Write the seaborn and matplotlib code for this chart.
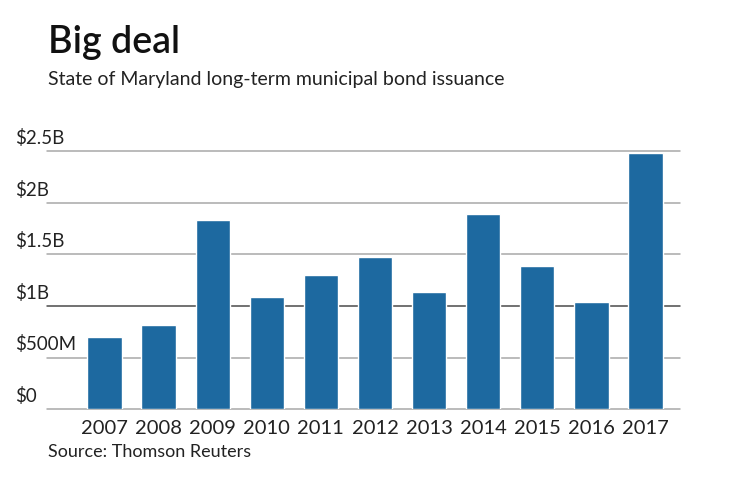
import matplotlib
matplotlib.use("Agg")
import matplotlib.pyplot as plt
import matplotlib.transforms as mtransforms
import seaborn as sns
import pandas as pd

years = ["2007", "2008", "2009", "2010", "2011", "2012", "2013", "2014", "2015", "2016", "2017"]
issuance_b = [0.70, 0.815, 1.83, 1.085, 1.30, 1.47, 1.14, 1.89, 1.39, 1.035, 2.485]
ytick_vals = [0, 0.5, 1.0, 1.5, 2.0, 2.5]
ytick_labels = ["$0", "$500M", "$1B", "$1.5B", "$2B", "$2.5B"]

title = "Big deal"
subtitle = "State of Maryland long-term municipal bond issuance"
source = "Source: Thomson Reuters"

sns.set_theme(style="white")
plt.rcParams["font.family"] = ["Lato", "DejaVu Sans"]

df = pd.DataFrame({"year": years, "value": issuance_b})

fig = plt.figure(figsize=(7.4, 4.82), dpi=100)
ax = fig.add_axes([0.0635, 0.1508, 0.919 - 0.0635, 0.6867 - 0.1508])

sns.barplot(data=df, x="year", y="value", color="#1d69a0", saturation=1,
            width=0.635, ax=ax, zorder=3)

ax.set_xlim(-1.063, 10.64)
ax.set_ylim(0, 2.5)
for s in ax.spines.values():
    s.set_visible(False)

for v in ytick_vals:
    col = "#4a4a4a" if v == 1.0 else "#a8a8a8"
    ax.axhline(v, color=col, lw=1.1, zorder=1, clip_on=False)

ax.set_yticks([])
ax.set_xlabel("")
ax.set_ylabel("")
ax.tick_params(axis="x", length=0, pad=7.5)
for lab in ax.get_xticklabels():
    lab.set_fontsize(14.5)
    lab.set_color("#222222")

trans = mtransforms.blended_transform_factory(fig.transFigure, ax.transData)
for v, lab in zip(ytick_vals, ytick_labels):
    t = ax.text(15 / 740, v, lab, transform=trans, ha="left", va="bottom",
                fontsize=13.5, color="#222222")
    t.set_transform(trans + mtransforms.ScaledTranslation(0, 3 / 72, fig.dpi_scale_trans))

fig.text(48 / 740, 1 - 53 / 482, title, fontsize=27, fontweight="semibold",
         color="#111111", ha="left", va="baseline")
fig.text(48 / 740, 1 - 85 / 482, subtitle, fontsize=14, color="#222222",
         ha="left", va="baseline")
fig.text(48 / 740, 1 - 457 / 482, source, fontsize=13, color="#222222",
         ha="left", va="baseline")

fig.savefig("out.png", dpi=100)
